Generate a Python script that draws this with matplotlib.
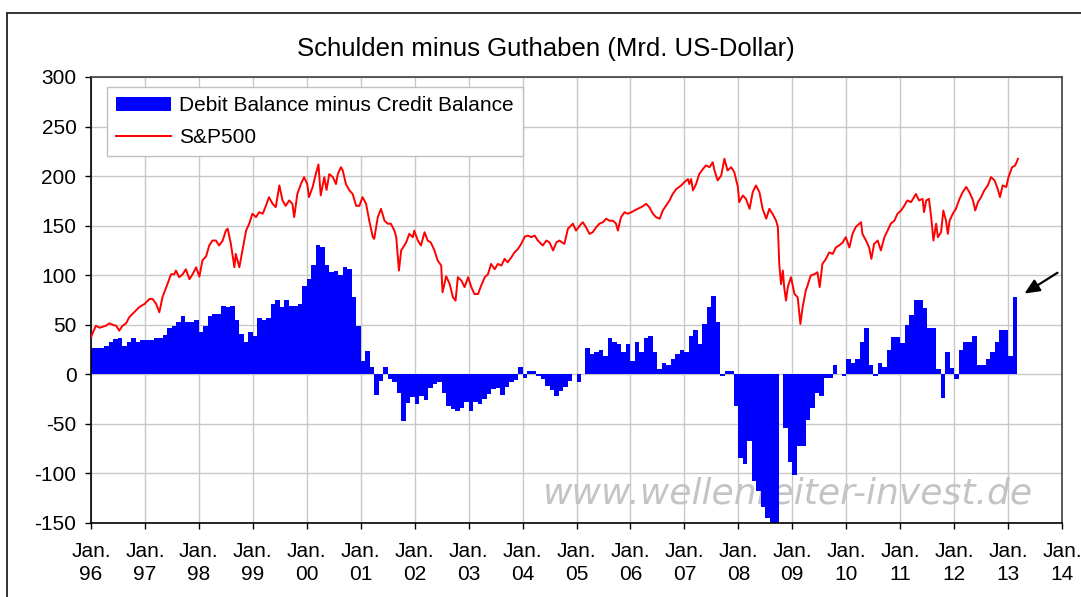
import numpy as np
import matplotlib.pyplot as plt
from matplotlib.patches import Rectangle

# Debit balance minus credit balance, monthly Jan 1996 .. Feb 2013 (bn USD)
debit_minus_credit = [
    27, 27, 27, 29, 33, 36, 37, 29, 33, 37, 33, 35,            # 1996
    35, 35, 37, 37, 40, 47, 49, 53, 59, 53, 53, 55,            # 1997
    43, 49, 59, 61, 61, 69, 68, 69, 55, 41, 33, 43,            # 1998
    39, 57, 55, 57, 71, 75, 68, 75, 69, 69, 71, 89,            # 1999
    96, 110, 130, 128, 110, 103, 104, 100, 108, 106, 78, 49,   # 2000
    13, 24, 7, -21, -7, 7, -5, -8, -19, -47, -29, -23,         # 2001
    -30, -22, -26, -14, -10, -8, -19, -32, -35, -37, -34, -28, # 2002
    -37, -28, -30, -25, -20, -15, -14, -21, -13, -8, -6, 7,    # 2003
    -4, 3, 3, -2, -5, -12, -16, -22, -17, -13, -7, 0,          # 2004
    -8, 0, 27, 21, 23, 25, 19, 37, 33, 31, 23, 31,             # 2005
    13, 33, 23, 37, 39, 23, 5, 11, 9, 15, 21, 25,              # 2006
    23, 39, 45, 31, 51, 68, 79, 53, -2, 3, 3, -32,             # 2007
    -84, -90, -67, -108, -118, -134, -145, -158, -158, 0, -54, -88,  # 2008
    -102, -72, -72, -46, -34, -19, -22, -4, -4, 9, 0, -2,      # 2009
    15, 11, 15, 33, 47, 9, -2, 11, 7, 25, 38, 38,              # 2010
    32, 50, 60, 75, 75, 67, 47, 47, 5, -24, 23, 6,             # 2011
    -5, 25, 33, 33, 39, 9, 9, 15, 23, 33, 45, 45,              # 2012
    19, 78,                                                    # 2013
]

# S&P500 (rescaled as in the source), months since Jan 1996
sp_month = [
    0.0, 0.4, 1.1, 1.9, 2.6, 3.3, 4.1, 4.8, 5.6, 6.3, 7.0, 7.8, 8.5, 9.6, 10.7, 11.9,
    13.0, 13.7, 14.5, 15.2, 15.9, 17.0, 17.8, 18.5, 18.9, 19.6, 20.4, 21.1, 21.9, 22.6, 23.4,
    24.1, 24.8, 25.6, 26.3, 27.0, 27.8, 28.5, 29.3, 30.0, 30.4, 31.1, 31.9, 32.2, 33.0, 33.7,
    34.5, 35.2, 35.9, 36.7, 37.4, 38.2, 38.9, 39.6, 40.4, 41.1, 41.9, 42.6, 43.3, 44.1, 44.8,
    45.2, 45.9, 46.7, 47.4, 48.1, 48.5, 49.3, 50.0, 50.6, 51.1, 51.9, 52.4, 53.0, 53.8, 54.5,
    54.9, 55.6, 56.0, 56.7, 57.5, 58.2, 59.0, 59.7, 60.4, 61.2, 61.9, 62.7, 63.0, 63.8, 64.5,
    65.3, 66.0, 66.7, 67.5, 67.9, 68.5, 69.0, 70.1, 70.8, 71.6, 71.9, 72.7, 73.4, 74.2, 74.9,
    75.6, 76.4, 77.1, 77.9, 78.2, 79.0, 79.8, 80.5, 81.1, 81.6, 82.4, 83.1, 83.9, 84.6, 85.3,
    86.1, 86.8, 87.6, 88.3, 89.0, 89.8, 90.5, 91.3, 92.0, 92.7, 93.5, 94.2, 95.0, 95.7, 96.5,
    97.2, 97.9, 98.7, 99.4, 100.5, 101.3, 102.0, 102.8, 103.5, 104.2, 105.3, 106.1, 107.2,
    107.9, 108.7, 109.4, 110.1, 110.9, 111.6, 112.4, 113.1, 113.9, 114.6, 115.3, 116.1, 116.8,
    117.2, 117.9, 118.7, 119.4, 120.2, 120.9, 121.6, 122.4, 123.5, 124.2, 125.0, 125.7, 126.5,
    127.2, 127.9, 128.7, 129.4, 130.2, 131.3, 132.0, 132.8, 133.1, 133.5, 133.9, 134.6, 135.3,
    136.1, 136.8, 137.6, 138.3, 138.7, 139.4, 140.2, 140.9, 141.6, 142.4, 143.1, 143.9, 144.2,
    145.0, 145.7, 146.5, 147.2, 147.9, 148.7, 149.4, 150.2, 150.9, 151.6, 152.4, 152.8, 153.1,
    153.5, 153.9, 154.2, 154.6, 155.0, 155.7, 156.5, 157.2, 157.8, 158.3, 159.0, 159.4, 160.1,
    160.9, 161.6, 162.1, 162.7, 163.5, 164.2, 165.0, 165.7, 166.4, 167.2, 167.9, 168.7, 169.4,
    170.1, 170.9, 171.3, 171.6, 172.4, 173.1, 173.6, 174.2, 175.0, 175.7, 176.5, 177.2, 177.9,
    178.7, 179.4, 180.2, 180.9, 181.6, 182.4, 183.1, 183.5, 184.2, 185.0, 185.3, 185.8, 186.4,
    186.9, 187.4, 188.0, 188.4, 189.1, 189.6, 190.2, 190.6, 191.0, 191.7, 192.4, 193.2, 193.9,
    194.7, 195.4, 196.2, 196.7, 197.3, 198.0, 198.7, 199.5, 200.2, 201.0, 201.7, 202.2, 202.8,
    203.6, 204.1, 204.9, 205.6, 206.2,
]
sp_value = [
    37.4, 42, 49, 47, 48, 49, 51.5, 50, 49, 44, 49, 51.5, 57.6, 62.6, 67.7, 71,
    76, 76, 71, 62.6, 77.8, 91, 101, 101, 104.7, 98, 101, 106, 96, 101, 108,
    98.6, 115, 119, 130, 135, 135, 130, 135, 145, 147, 132, 108, 121.5, 108, 125,
    145, 152, 162, 158.6, 163.6, 162, 170, 178.8, 172, 168.7, 190.6, 175.5, 170, 175.5, 172,
    158.6, 182, 192, 199, 192, 178.8, 189, 202, 211.8, 180.5, 199, 186, 202, 199, 192,
    202, 209, 205.7, 192, 185.5, 182, 170, 170, 178.8, 172, 155, 138.4, 136.7, 158.6, 167,
    155, 152, 152, 145, 138.4, 104.7, 125, 133, 141.7, 138.4, 145, 135, 130, 143.4, 135,
    133, 125, 115, 109.8, 82.8, 99, 91, 77.8, 74.4, 98, 94.6, 88, 98, 88, 81,
    81, 89.6, 98, 101, 111.4, 106, 111.4, 109.8, 116.5, 113, 118, 123, 126.6, 131.6, 139,
    140, 138.4, 140, 135, 130, 135, 133, 125, 133, 135, 131.6, 147, 152,
    145, 150, 153.5, 148.5, 141.7, 143.4, 148.5, 152, 153.5, 157, 155, 155, 152,
    145, 158.6, 163.6, 162, 163.6, 165.3, 167, 168.7, 172, 168.7, 162, 158.6, 157,
    165.3, 170, 175.5, 182, 187, 190.6, 194, 197, 192, 197, 185.5, 192, 202,
    207, 210.8, 209, 214, 205.7, 195.6, 200.7, 217.5, 205.7, 209, 204, 189, 173.7,
    180.5, 177, 167, 183.8, 190.6, 183.8, 167, 157, 167, 162, 155, 148.5, 111.4,
    91, 104.7, 88, 74.4, 88, 98, 81, 77.8, 50.8, 67.7, 84.5, 89.6, 99.7,
    101, 103, 88, 111.4, 116.5, 123, 121.5, 128, 130, 133, 138.4, 128, 141.7,
    148.5, 152, 153.5, 141.7, 135, 128, 116.5, 131.6, 135, 125, 138.4, 145, 152,
    155, 162, 165.3, 170, 175.5, 173.7, 178.8, 182, 175.5, 177, 163.6, 175.5, 177,
    158.6, 135, 152, 138.4, 143.4, 165.3, 155, 141.7, 155, 162, 167, 177, 183.8,
    189, 183.8, 175.5, 165.3, 173.7, 178.8, 185.5, 190.6, 199, 195.6, 187, 178.8, 190.6,
    189, 199, 209, 210.8, 217.5,
]

years = list(range(1996, 2015))
year_labels = ['Jan.\n%02d' % (y % 100) for y in years]
y_ticks = list(range(-150, 301, 50))

plt.rcParams['font.family'] = ['Liberation Sans', 'DejaVu Sans']
plt.rcParams['axes.unicode_minus'] = False

W, H = 1081, 597
fig = plt.figure(figsize=(W / 100, H / 100), dpi=100)
ax = fig.add_axes([91 / W, 1 - 523 / H, (1062 - 91) / W, (523 - 77) / H])

# outer chart frame (cut at right and bottom in the source)
fig.patches.append(Rectangle((7 / W, -0.5), 2, 0.5 + 1 - 13 / H, transform=fig.transFigure,
                             fill=False, edgecolor='#222222', lw=1.3))

x_bar = 1996 + np.arange(len(debit_minus_credit)) / 12
bars = ax.bar(x_bar, debit_minus_credit, width=1 / 12, align='edge', color='#0000ff', lw=0,
              zorder=2)
line, = ax.plot(1996 + np.array(sp_month) / 12, sp_value, color='#ff0000', lw=1.4, zorder=3)

ax.set_xlim(1996, 2014)
ax.set_ylim(-150, 300)
ax.set_xticks(years)
ax.set_xticklabels(year_labels, linespacing=1.3)
ax.set_yticks(y_ticks)
ax.grid(color='#c8c8c8', lw=1, zorder=0)
ax.set_axisbelow(True)
ax.tick_params(direction='out', length=4.5, width=1, labelsize=15, colors='black')
ax.tick_params(axis='x', pad=9)
ax.tick_params(axis='y', pad=6)
for s in ['left', 'bottom']:
    ax.spines[s].set_color('black')
    ax.spines[s].set_linewidth(1.2)
for s in ['top', 'right']:
    ax.spines[s].set_color('#404040')
    ax.spines[s].set_linewidth(1.2)

ax.text(788 / W, 1 - 493 / H, 'www.wellenreiter-invest.de', transform=fig.transFigure,
        ha='center', va='center', fontsize=26, family='DejaVu Sans', style='italic',
        color='#c4c4c4', zorder=1.5)

ax.annotate('', xy=(2013.26, 80), xytext=(2013.96, 104),
            arrowprops=dict(arrowstyle='-|>,head_length=0.9,head_width=0.4',
                            color='black', lw=1.6), annotation_clip=False)

leg = ax.legend([bars, line], ['Debit Balance minus Credit Balance', 'S&P500'],
                loc='upper left', bbox_to_anchor=(107 / W, 1 - 87 / H),
                bbox_transform=fig.transFigure, borderaxespad=0, fontsize=15,
                fancybox=False, framealpha=1, edgecolor='#c0c0c0',
                handlelength=2.6, handletextpad=0.4, borderpad=0.45, labelspacing=0.6)
leg.get_frame().set_linewidth(1)

fig.text(546 / W, 1 - 49 / H, 'Schulden minus Guthaben (Mrd. US-Dollar)',
         ha='center', va='center', fontsize=18.5)

fig.savefig('out.png', dpi=100)
